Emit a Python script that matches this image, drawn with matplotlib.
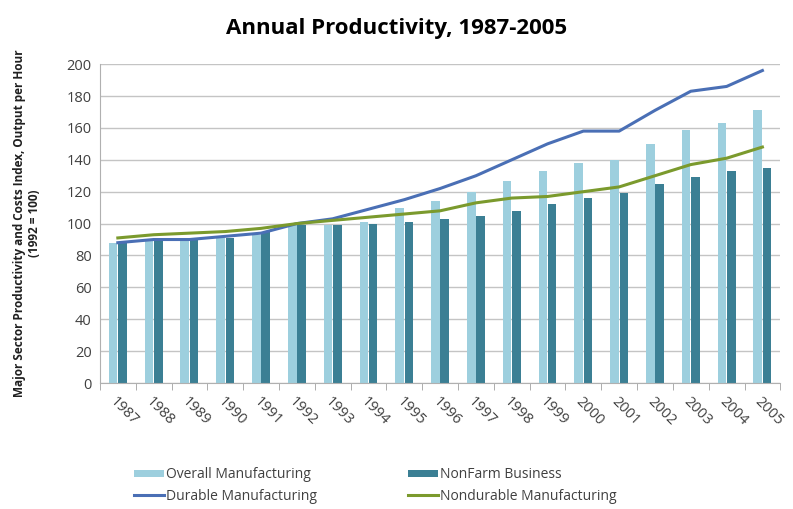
import matplotlib
matplotlib.use("Agg")
import matplotlib.pyplot as plt
import numpy as np

years = [str(y) for y in range(1987, 2006)]
overall_mfg = [88, 89, 90, 91, 93, 99, 99, 101, 110, 114, 120, 127, 133, 138, 140, 150, 159, 163, 171]
nonfarm = [88, 89, 90, 91, 95, 99, 99, 100, 101, 103, 105, 108, 112, 116, 119, 125, 129, 133, 135]
durable = [88, 90, 90, 92, 94, 100, 103, 109, 115, 122, 130, 140, 150, 158, 158, 171, 183, 186, 196]
nondurable = [91, 93, 94, 95, 97, 100, 102, 104, 106, 108, 113, 116, 117, 120, 123, 130, 137, 141, 148]

LIGHT = "#9dcfde"
DARK = "#3b7f94"
BLUE = "#4a6fb5"
OLIVE = "#7b9a2d"
GRID = "#c4c4c4"
TXT = "#404040"

plt.rcParams["font.family"] = ["Open Sans", "DejaVu Sans"]

fig = plt.figure(figsize=(7.93, 5.09), dpi=100)
ax = fig.add_axes([0.126, 0.2475, 0.858, 0.6265])

x = np.arange(len(years))
w = 0.24
b1 = ax.bar(x - 0.13, overall_mfg, w, color=LIGHT, label="Overall Manufacturing", zorder=2)
b2 = ax.bar(x + 0.13, nonfarm, w, color=DARK, label="NonFarm Business", zorder=2)
l1, = ax.plot(x, durable, color=BLUE, lw=2.2, label="Durable Manufacturing", zorder=3)
l2, = ax.plot(x, nondurable, color=OLIVE, lw=2.2, label="Nondurable Manufacturing", zorder=3)

ax.set_xlim(-0.5, len(years) - 0.5)
ax.set_ylim(0, 200)
ax.set_yticks(range(0, 201, 20))
ax.yaxis.grid(True, color=GRID, lw=1, zorder=0)
ax.set_axisbelow(True)

ax.set_xticks(x)
ax.set_xticklabels(years, rotation=-45, ha="left", rotation_mode="anchor", fontsize=10.5, color=TXT)
ax.set_xticks(np.arange(-0.5, len(years)), minor=True)
ax.tick_params(axis="x", which="major", length=0, pad=8)
ax.tick_params(axis="x", which="minor", length=5, color="#a0a0a0", direction="out")
ax.tick_params(axis="y", length=0, labelsize=10.5, labelcolor=TXT, pad=6)

for s in ["top", "right"]:
    ax.spines[s].set_visible(False)
for s in ["left", "bottom"]:
    ax.spines[s].set_color("#b0b0b0")

ax.set_ylabel("Major Sector Productivity and Costs Index, Output per Hour\n(1992 = 100)",
              fontsize=8.5, fontweight="bold", color="#202020", labelpad=18)

fig.suptitle("Annual Productivity, 1987-2005", fontsize=16, fontweight="bold", y=0.965, x=0.5)

# column-wise fill: col 1 = Overall / Durable, col 2 = NonFarm / Nondurable
fig.legend([b1, l1, b2, l2],
           ["Overall Manufacturing", "Durable Manufacturing", "NonFarm Business", "Nondurable Manufacturing"],
           ncol=2, frameon=False, loc="upper left", bbox_to_anchor=(0.158, 0.098), fontsize=10,
           handlelength=2.2, handleheight=0.5, columnspacing=6.5, labelcolor=TXT,
           handletextpad=0.15, labelspacing=0.45, borderaxespad=0.2)

fig.savefig("out.png", dpi=100)
